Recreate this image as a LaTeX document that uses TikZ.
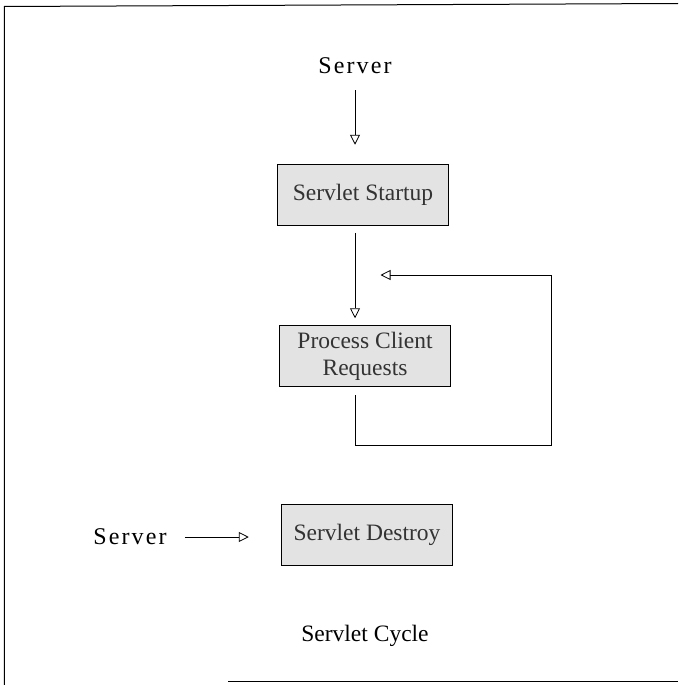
\documentclass[tikz,border=0pt]{standalone}
\usepackage{fontspec}
\setmainfont{Liberation Serif}
\usetikzlibrary{arrows.meta}

\begin{document}
\begin{tikzpicture}[x=1pt,y=1pt,
  font=\fontsize{23.5}{27}\selectfont,
  srvtext/.style={font=\fontsize{24}{27}\selectfont\addfontfeature{LetterSpace=9}},
  stagebox/.style={draw=black, line width=1.5pt, fill=gray!22, text=black!80,
    minimum width=171pt, minimum height=61pt, align=center, inner sep=0pt},
  flow/.style={draw=black, line width=0.8pt, -{Triangle[open,length=10pt,width=10pt]}}]
\tikzstyle{every node}+=[inner sep=0pt]
\useasboundingbox (0,0) rectangle (678,-685);
% frame
\draw [black, line width=1pt] (4.3,-685) -- (4.3,-6.5) -- (678,-3.5);
\draw [black, line width=1pt] (228,-681.6) -- (678,-681.6);
% stages
\node [srvtext] (srvtop) at (355,-66) {Server};
\node [stagebox] (startup) at (363,-195) {Servlet Startup};
\node [stagebox] (process) at (365,-356) {Process Client\\Requests};
\node [stagebox] (destroy) at (367,-535) {Servlet Destroy};
\node [srvtext] (srvleft) at (130,-537) {Server};
\node (caption) at (365,-636) {Servlet Cycle};
\coordinate (loopcorner) at (551,-445.6);
\coordinate (loopend) at (380.5,-275);
% connectors
\draw [flow, shorten <=16pt, shorten >=19pt] (srvtop.south) -- (startup.north -| srvtop.south);
\draw [flow, shorten <=6.5pt, shorten >=6.5pt] (startup.south -| srvtop.south) -- (process.north -| srvtop.south);
\draw [flow, shorten <=8pt] (process.south -| srvtop.south) |- (loopcorner) |- (loopend);
\draw [flow, shorten <=18pt, shorten >=32pt] (srvleft.east) -- (destroy.west |- srvleft.east);
\end{tikzpicture}
\end{document}
